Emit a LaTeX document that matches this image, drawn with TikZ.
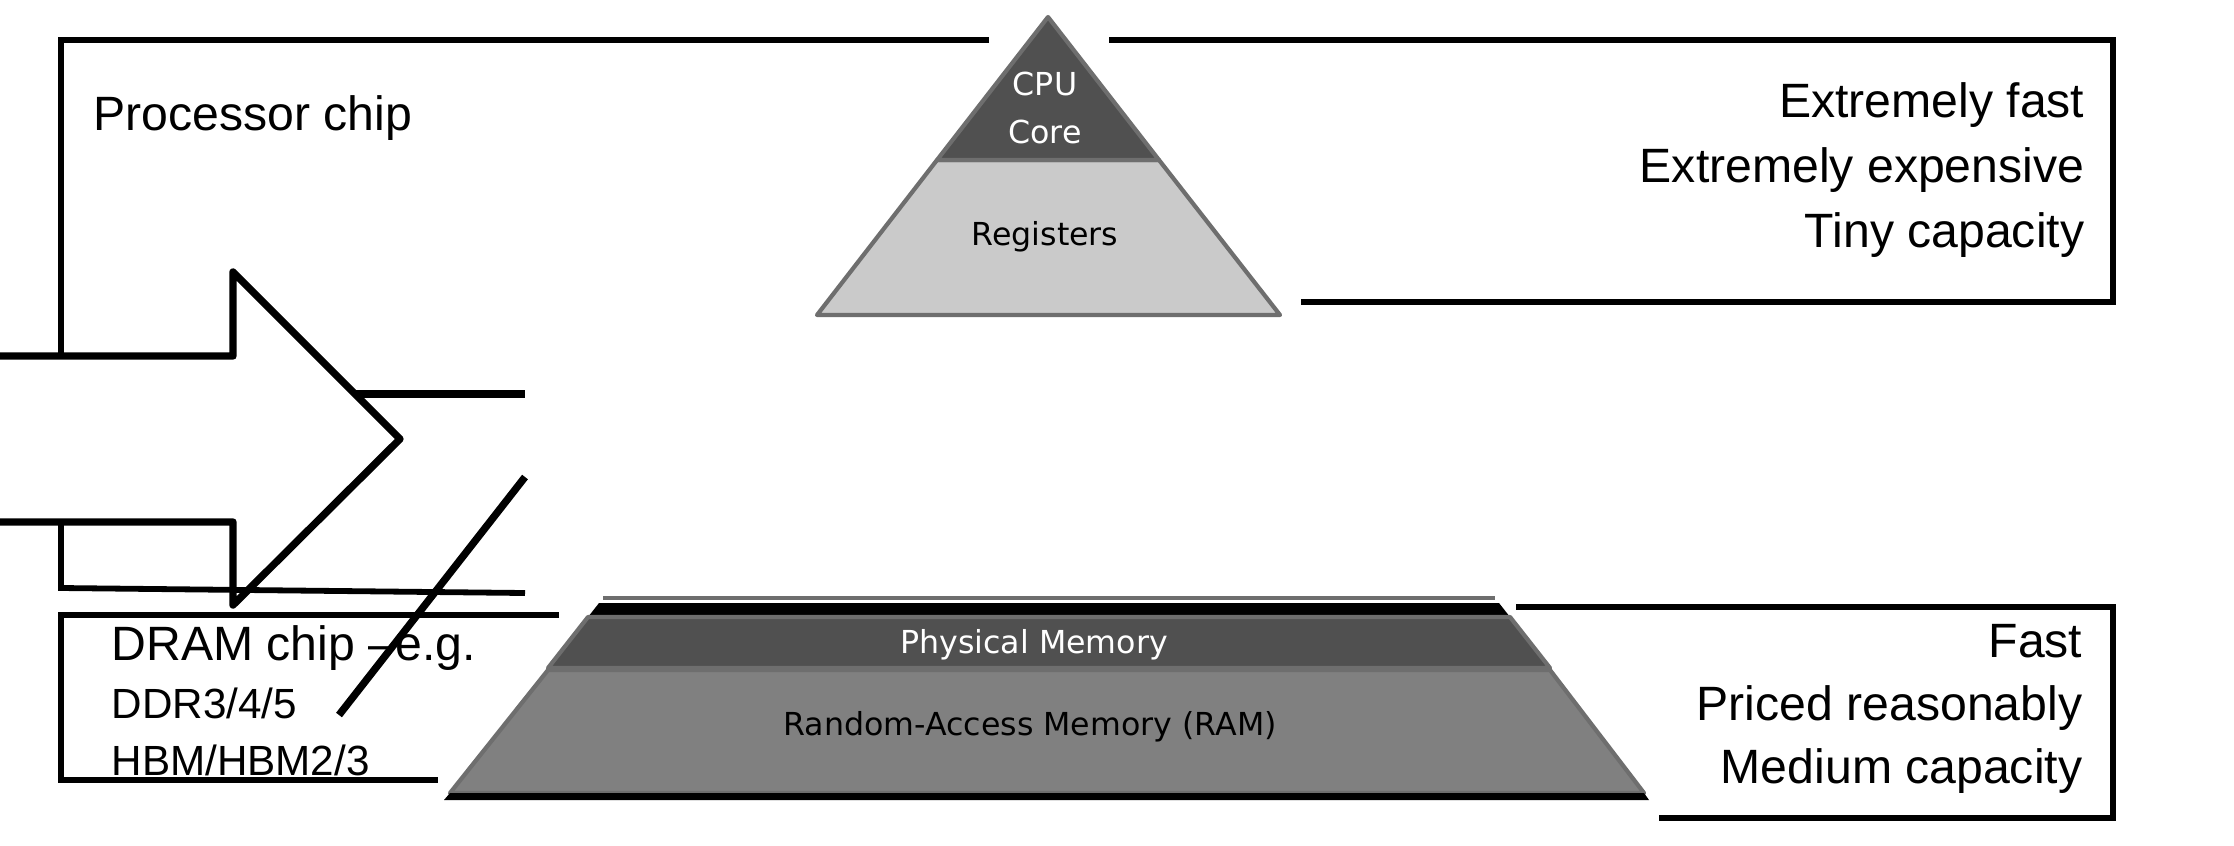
\documentclass[tikz,border=0pt]{standalone}
\usepackage{fontspec}
\setmainfont{Liberation Sans}
\newfontfamily\pyrfont{DejaVu Sans}
\usetikzlibrary{positioning}

\definecolor{coredark}{HTML}{505050}
\definecolor{reglight}{HTML}{CACACA}
\definecolor{ramgray}{HTML}{808080}
\definecolor{rimgray}{HTML}{6E6E6E}

\begin{document}
\begin{tikzpicture}[
  x=0.01cm, y=-0.01cm,
  frame/.style={line width=1.65pt},
  bigline/.style={line width=2.1pt, line join=round},
  lbl/.style={font=\fontsize{13.7}{16}\selectfont, inner sep=0pt},
  small/.style={font=\fontsize{12}{14}\selectfont, inner sep=0pt},
  pyr/.style={font=\pyrfont\fontsize{9}{13.4}\selectfont, inner sep=0pt, align=center},
  rim/.style={draw=rimgray, line width=1.2pt, line join=round}
]
\useasboundingbox (0,0) rectangle (2234,845);

% processor chip frame
\draw[frame] (989,40) -- (61,40) -- (61,356);
\draw[frame] (1109,40) -- (2113,40) -- (2113,302) -- (1301,302);
\node[lbl, anchor=base west] (proc) at (93,130) {Processor chip};
\node[lbl, anchor=base east] (xfast) at (2085,117) {Extremely fast};
\node[lbl, anchor=base east] (xcost) at (2085,182) {Extremely expensive};
\node[lbl, anchor=base east] (tiny) at (2085,247) {Tiny capacity};

% cpu pyramid tip
\filldraw[fill=reglight, rim] (937,160) -- (1159,160) -- (1280,315) -- (817,315) -- cycle;
\filldraw[fill=coredark, rim] (1048,17) -- (1159,160) -- (937,160) -- cycle;
\node[pyr, text=white] (core) at (1045,108) {CPU\\Core};
\node[pyr] (regs) at (1045,237) {Registers};

% big arrow and cut-off lines
\draw[bigline] (0,356) -- (233,356) -- (233,272) -- (400,439)
  -- (233,605) -- (233,522) -- (0,522);
\draw[bigline] (355,394) -- (525,394);
\draw[frame] (61,522) -- (61,588) -- (525,593);

% dram chip frame
\draw[frame] (559,615) -- (61,615) -- (61,780) -- (438,780);
\node[lbl, anchor=base west] (dram) at (111,660) {DRAM chip –e.g.};
\node[small, anchor=base west] (ddr) at (111,718) {DDR3/4/5};
\node[small, anchor=base west] (hbm) at (111,775) {HBM/HBM2/3};
\draw[bigline] (525,477) -- (339,715);

% memory layer
\draw[rimgray, line width=1pt] (603,598) -- (1495,598);
\fill[black] (599,603) -- (1499,603) -- (1510,617) -- (588,617) -- cycle;
\filldraw[fill=coredark, rim] (588,617) -- (1510,617) -- (1550,668) -- (548,668) -- cycle;
\filldraw[fill=ramgray, rim] (548,670) -- (1550,670) -- (1644,793) -- (450,793) -- cycle;
\fill[black] (450,793) -- (1644,793) -- (1649,800) -- (444,800) -- cycle;
\node[pyr, text=white] (phys) at (1034,645) {Physical Memory};
\node[pyr] (ram) at (1030,727) {Random-Access Memory (RAM)};

% memory frame
\draw[frame] (1516,607) -- (2113,607) -- (2113,818) -- (1659,818);
\node[lbl, anchor=base east] (fast) at (2083,657) {Fast};
\node[lbl, anchor=base east] (priced) at (2083,720) {Priced reasonably};
\node[lbl, anchor=base east] (medium) at (2083,783) {Medium capacity};
\end{tikzpicture}
\end{document}
